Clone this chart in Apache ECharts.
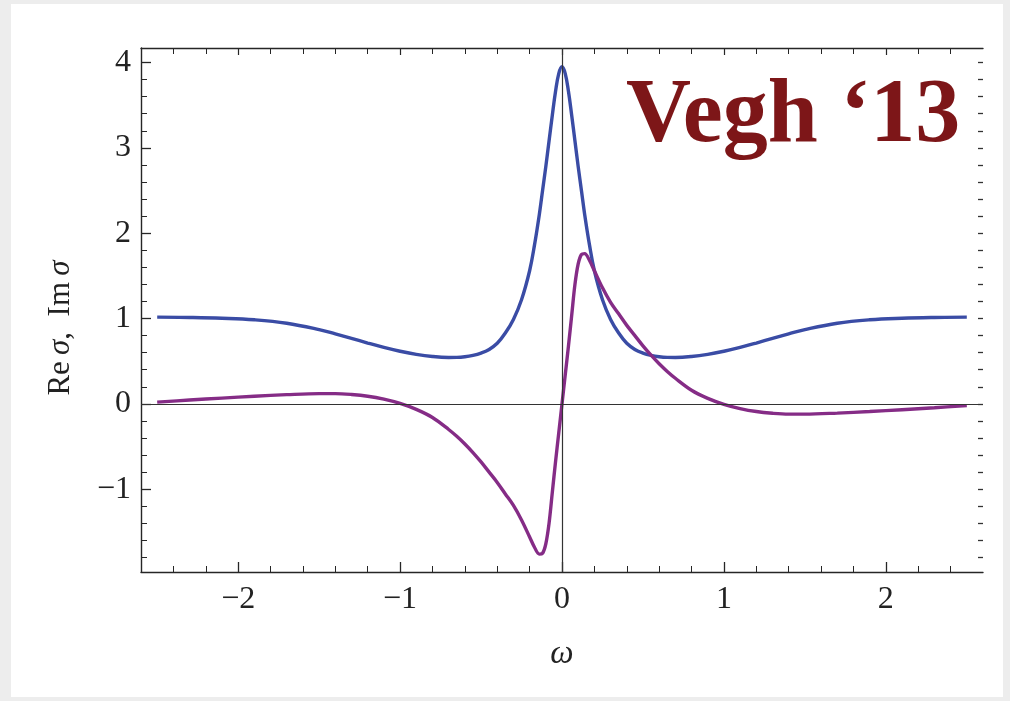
<!DOCTYPE html>
<html>
<head>
<meta charset="utf-8">
<script src="https://cdn.jsdelivr.net/npm/echarts@6/dist/echarts.min.js"></script>
<style>
  html, body { margin: 0; padding: 0; background: #ededed; }
  #panel { position: absolute; left: 11px; top: 4px; width: 992px; height: 693px; background: #ffffff; }
  #main { position: absolute; left: 0; top: 0; width: 1010px; height: 701px; }
</style>
</head>
<body>
<div id="panel"></div>
<div id="main"></div>
<script>
// ---- data ----
const omega = [-2.5,-2.3,-2.1,-1.9,-1.7,-1.5,-1.4,-1.3,-1.2,-1.1,-1.0,-0.9,-0.8,-0.7,-0.65,-0.6,-0.55,-0.5,-0.45,-0.4,-0.35,-0.3,-0.25,-0.2,-0.17,-0.14,-0.12,-0.1,-0.08,-0.06,-0.04,-0.02,
  0,
  0.02,0.04,0.06,0.08,0.1,0.12,0.14,0.17,0.2,0.25,0.3,0.35,0.4,0.45,0.5,0.55,0.6,0.65,0.7,0.8,0.9,1.0,1.1,1.2,1.3,1.4,1.5,1.7,1.9,2.1,2.3,2.5];

const reSigma = [1.016,1.012,1.003,0.985,0.945,0.87,0.82,0.767,0.713,0.662,0.617,0.58,0.555,0.544,0.545,0.552,0.568,0.595,0.638,0.71,0.83,0.99,1.22,1.56,1.86,2.22,2.50,2.78,3.08,3.38,3.66,3.87,
  3.95,
  3.87,3.66,3.38,3.08,2.78,2.50,2.22,1.86,1.56,1.22,0.99,0.83,0.71,0.638,0.595,0.568,0.552,0.545,0.544,0.555,0.58,0.617,0.662,0.713,0.767,0.82,0.87,0.945,0.985,1.003,1.012,1.016];

const imSigma = [0.02,0.045,0.068,0.09,0.108,0.12,0.12,0.11,0.09,0.055,0.005,-0.065,-0.16,-0.30,-0.38,-0.47,-0.57,-0.68,-0.80,-0.92,-1.055,-1.19,-1.36,-1.56,-1.68,-1.76,-1.75,-1.64,-1.40,-1.04,-0.68,-0.34,
  0,
  0.34,0.68,1.04,1.40,1.64,1.75,1.76,1.68,1.56,1.36,1.19,1.055,0.92,0.80,0.68,0.57,0.47,0.38,0.30,0.16,0.065,-0.005,-0.055,-0.09,-0.11,-0.12,-0.12,-0.108,-0.09,-0.068,-0.045,-0.02];

const xTickValues = [-2, -1, 0, 1, 2];
const xTickLabels = ['\u22122', '\u22121', '0', '1', '2'];
const xMinorTicks = [-2.4,-2.2,-1.8,-1.6,-1.4,-1.2,-0.8,-0.6,-0.4,-0.2,0.2,0.4,0.6,0.8,1.2,1.4,1.6,1.8,2.2,2.4];
const yTickValues = [-1, 0, 1, 2, 3, 4];
const yTickLabels = ['\u22121', '0', '1', '2', '3', '4'];
const yMinorTicks = [-1.8,-1.6,-1.4,-1.2,-0.8,-0.6,-0.4,-0.2,0.2,0.4,0.6,0.8,1.2,1.4,1.6,1.8,2.2,2.4,2.6,2.8,3.2,3.4,3.6,3.8];
const yAxisTitle = ['Re', '\u03c3', ',', 'Im', '\u03c3'];
const xAxisTitle = '\u03c9';
const stamp = 'Vegh \u201813';

const xRange = [-2.6, 2.6];
const yRange = [-1.97, 4.17];

// ---- chart ----
const chart = echarts.init(document.getElementById('main'), null, { renderer: 'canvas' });
const serif = '"Liberation Serif", "Times New Roman", serif';
const frameColor = '#262626';

function labelFor(values, labels) {
  return function (v) {
    for (let i = 0; i < values.length; i++) {
      if (Math.abs(values[i] - v) < 1e-9) return labels[i];
    }
    return '';
  };
}

function baseAxis(extra) {
  return Object.assign({
    type: 'value',
    gridIndex: 0,
    splitLine: { show: false },
    axisLabel: { show: false },
    axisLine: { show: false, onZero: false }
  }, extra);
}

const option = {
  animation: false,
  backgroundColor: 'transparent',
  grid: { left: 141, right: 27, top: 48, bottom: 129, containLabel: false },
  xAxis: [
    baseAxis({
      min: xRange[0], max: xRange[1], position: 'bottom',
      axisLine: { show: true, onZero: false, lineStyle: { color: frameColor, width: 1.4 } },
      axisTick: { show: true, inside: true, length: 10, customValues: xTickValues, lineStyle: { color: frameColor, width: 1.3 } },
      axisLabel: { show: true, customValues: xTickValues, formatter: labelFor(xTickValues, xTickLabels),
        fontFamily: serif, fontSize: 32, color: '#222', margin: 12 },
      name: xAxisTitle, nameLocation: 'middle', nameGap: 66,
      nameTextStyle: { fontFamily: serif, fontStyle: 'italic', fontSize: 33, color: '#222' }
    }),
    baseAxis({
      min: xRange[0], max: xRange[1], position: 'bottom',
      axisTick: { show: true, inside: true, length: 6, customValues: xMinorTicks, lineStyle: { color: frameColor, width: 1 } }
    }),
    baseAxis({
      min: xRange[0], max: xRange[1], position: 'top',
      axisLine: { show: true, onZero: false, lineStyle: { color: frameColor, width: 1.4 } },
      axisTick: { show: true, inside: true, length: 7, customValues: xTickValues, lineStyle: { color: frameColor, width: 1.2 } }
    }),
    baseAxis({
      min: xRange[0], max: xRange[1], position: 'top',
      axisTick: { show: true, inside: true, length: 6, customValues: xMinorTicks, lineStyle: { color: frameColor, width: 1 } }
    })
  ],
  yAxis: [
    baseAxis({
      min: yRange[0], max: yRange[1], position: 'left',
      axisLine: { show: true, onZero: false, lineStyle: { color: frameColor, width: 1.4 } },
      axisTick: { show: true, inside: true, length: 10, customValues: yTickValues, lineStyle: { color: frameColor, width: 1.3 } },
      axisLabel: { show: true, customValues: yTickValues, formatter: labelFor(yTickValues, yTickLabels),
        fontFamily: serif, fontSize: 32, color: '#222', margin: 10 }
    }),
    baseAxis({
      min: yRange[0], max: yRange[1], position: 'left',
      axisTick: { show: true, inside: true, length: 6, customValues: yMinorTicks, lineStyle: { color: frameColor, width: 1 } }
    }),
    baseAxis({
      min: yRange[0], max: yRange[1], position: 'right',
      axisTick: { show: true, inside: true, length: 5, customValues: yTickValues.concat(yMinorTicks), lineStyle: { color: '#333', width: 1.3 } }
    })
  ],
  graphic: [
    {
      type: 'text', z: 100,
      style: {
        text: stamp, x: 626, y: 118,
        font: 'bold 90px "Liberation Serif", "Times New Roman", serif',
        fill: '#7d1618', verticalAlign: 'middle', align: 'left'
      }
    },
    {
      type: 'text', z: 100, x: 61, y: 328, rotation: Math.PI / 2,
      style: {
        text: '{a|' + yAxisTitle[0] + '\u2009}{i|' + yAxisTitle[1] + '}{a|' + yAxisTitle[2] + '\u2002' + yAxisTitle[3] + '\u2009}{i|' + yAxisTitle[4] + '}',
        align: 'center', verticalAlign: 'middle',
        rich: {
          a: { fontFamily: serif, fontSize: 31, fill: '#222', color: '#222' },
          i: { fontFamily: serif, fontSize: 31, fontStyle: 'italic', fill: '#222', color: '#222' }
        }
      }
    }
  ],
  series: [
    {
      name: 'Re', type: 'line', xAxisIndex: 0, yAxisIndex: 0,
      data: omega.map((w, i) => [w, reSigma[i]]),
      showSymbol: false, smooth: 0.4, clip: true,
      lineStyle: { color: '#3a4ca5', width: 3.4 }, z: 3,
      markLine: {
        silent: true, symbol: 'none', label: { show: false }, animation: false,
        lineStyle: { color: '#333', width: 1.2, type: 'solid' },
        data: [{ xAxis: 0 }, { yAxis: 0 }]
      }
    },
    {
      name: 'Im', type: 'line', xAxisIndex: 0, yAxisIndex: 0,
      data: omega.map((w, i) => [w, imSigma[i]]),
      showSymbol: false, smooth: 0.35, clip: true,
      lineStyle: { color: '#852c86', width: 3.4 }, z: 4
    }
  ]
};
chart.setOption(option);
</script>
</body>
</html>
